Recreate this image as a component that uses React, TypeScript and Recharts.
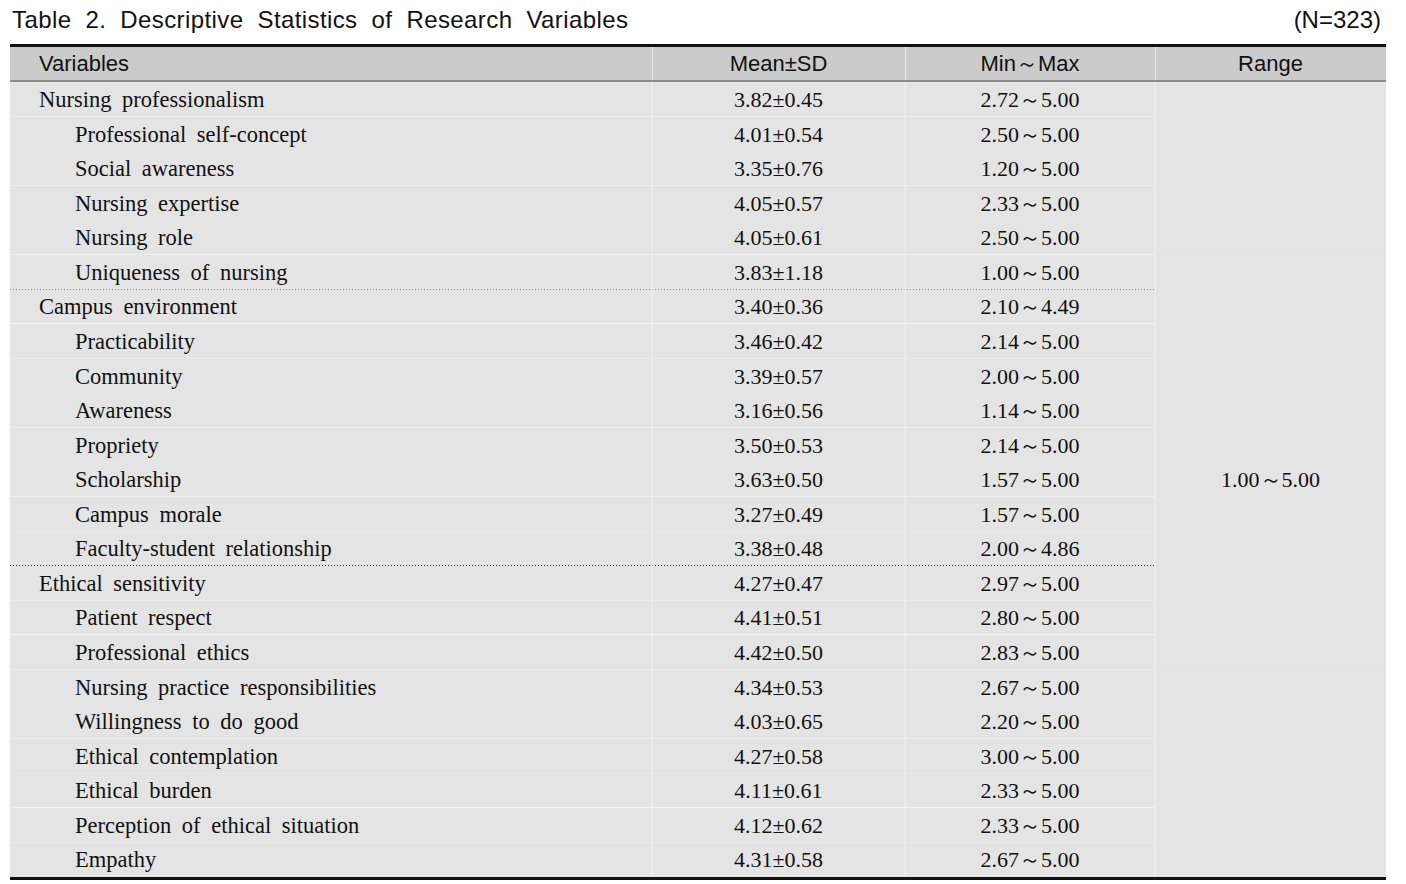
import { BarChart, Bar, XAxis, YAxis, LabelList, ReferenceLine, ReferenceArea } from 'recharts';

const VARIABLES = [
  'Nursing professionalism',
  'Professional self-concept',
  'Social awareness',
  'Nursing expertise',
  'Nursing role',
  'Uniqueness of nursing',
  'Campus environment',
  'Practicability',
  'Community',
  'Awareness',
  'Propriety',
  'Scholarship',
  'Campus morale',
  'Faculty-student relationship',
  'Ethical sensitivity',
  'Patient respect',
  'Professional ethics',
  'Nursing practice responsibilities',
  'Willingness to do good',
  'Ethical contemplation',
  'Ethical burden',
  'Perception of ethical situation',
  'Empathy',
];
// 0 = main variable, 1 = sub-factor
const LEVELS = [0, 1, 1, 1, 1, 1, 0, 1, 1, 1, 1, 1, 1, 1, 0, 1, 1, 1, 1, 1, 1, 1, 1];
const MEANS = [3.82, 4.01, 3.35, 4.05, 4.05, 3.83, 3.40, 3.46, 3.39, 3.16, 3.50, 3.63, 3.27, 3.38, 4.27, 4.41, 4.42, 4.34, 4.03, 4.27, 4.11, 4.12, 4.31];
const SDS = [0.45, 0.54, 0.76, 0.57, 0.61, 1.18, 0.36, 0.42, 0.57, 0.56, 0.53, 0.50, 0.49, 0.48, 0.47, 0.51, 0.50, 0.53, 0.65, 0.58, 0.61, 0.62, 0.58];
const MINS = [2.72, 2.50, 1.20, 2.33, 2.50, 1.00, 2.10, 2.14, 2.00, 1.14, 2.14, 1.57, 1.57, 2.00, 2.97, 2.80, 2.83, 2.67, 2.20, 3.00, 2.33, 2.33, 2.67];
const MAXS = [5.00, 5.00, 5.00, 5.00, 5.00, 5.00, 4.49, 5.00, 5.00, 5.00, 5.00, 5.00, 5.00, 4.86, 5.00, 5.00, 5.00, 5.00, 5.00, 5.00, 5.00, 5.00, 5.00];
const GROUP_ENDS = [5, 13];
const RANGE_TEXT = '1.00～5.00';
const HEADERS = ['Variables', 'Mean±SD', 'Min～Max', 'Range'];

// table geometry (pixels inside the plot area)
const TABLE_W = 1376;
const COL_EDGES = [642, 895, 1145];

const SERIF = '"Liberation Serif", "Times New Roman", serif';
const SANS = '"Liberation Sans", Arial, sans-serif';

const rows = VARIABLES.map((name, i) => ({
  name,
  level: LEVELS[i],
  meanSd: `${MEANS[i].toFixed(2)}±${SDS[i].toFixed(2)}`,
  minMax: `${MINS[i].toFixed(2)}～${MAXS[i].toFixed(2)}`,
  groupEnd: GROUP_ENDS.includes(i),
  last: i === VARIABLES.length - 1,
  span: TABLE_W,
}));

function RowShape(props: any) {
  const { x, y, width, height, payload } = props;
  const bottom = Math.round(y + height) - 0.5;
  return (
    <g>
      <rect x={x} y={y} width={width} height={height} fill="#e4e4e4" />
      {!payload.last && !payload.groupEnd && (
        <line x1={x} x2={x + COL_EDGES[2]} y1={bottom} y2={bottom} stroke="#f4f4f4" strokeWidth={1} />
      )}
      {payload.groupEnd && (
        <line x1={x} x2={x + COL_EDGES[2]} y1={bottom} y2={bottom} stroke="#111" strokeWidth={1} strokeDasharray="1 2" />
      )}
    </g>
  );
}

const cellText = (cx: number, anchor: 'start' | 'middle') => (props: any) => {
  const { x, y, height, value, index } = props;
  const isName = anchor === 'start';
  const indent = isName ? (rows[index].level === 0 ? 29 : 65) : 0;
  return (
    <text
      x={isName ? x + indent : x + cx}
      y={y + height / 2}
      textAnchor={anchor}
      dominantBaseline="central"
      fontFamily={SERIF}
      fontSize={isName ? 22.5 : 22}
      fill="#111"
      style={{ wordSpacing: isName ? 5 : 0 }}
    >
      {value}
    </text>
  );
};

export default function App() {
  const headerCenters = [0, (652 + 905) / 2, (905 + 1155) / 2, (1155 + 1386) / 2];
  return (
    <div style={{ position: 'absolute', left: 0, top: 0, width: 1406, height: 884, background: '#fff' }}>
      <BarChart
        width={1406}
        height={884}
        data={rows}
        layout="vertical"
        barCategoryGap={0}
        margin={{ top: 82, right: 20, bottom: 7, left: 10 }}
      >
        <XAxis type="number" domain={[0, TABLE_W]} hide />
        <YAxis type="category" dataKey="name" hide />
        <Bar dataKey="span" shape={RowShape} isAnimationActive={false}>
          <LabelList dataKey="name" content={cellText(0, 'start')} />
          <LabelList dataKey="meanSd" content={cellText((COL_EDGES[0] + COL_EDGES[1]) / 2, 'middle')} />
          <LabelList dataKey="minMax" content={cellText((COL_EDGES[1] + COL_EDGES[2]) / 2, 'middle')} />
        </Bar>
        {COL_EDGES.map((c) => (
          <ReferenceLine key={c} x={c} stroke="#f2f2f2" strokeWidth={1} />
        ))}
        <ReferenceArea
          x1={COL_EDGES[2]}
          x2={TABLE_W}
          fill="none"
          stroke="none"
          label={{ value: RANGE_TEXT, position: 'center', fill: '#111', fontSize: 22, fontFamily: SERIF }}
        />
      </BarChart>

      {/* title */}
      <div
        style={{
          position: 'absolute', left: 12, top: 6, fontFamily: SANS, fontSize: 24,
          color: '#111', wordSpacing: 7, letterSpacing: 0.4, whiteSpace: 'nowrap',
        }}
      >
        Table 2. Descriptive Statistics of Research Variables
      </div>
      <div style={{ position: 'absolute', right: 25, top: 6, fontFamily: SANS, fontSize: 24, color: '#111' }}>
        (N=323)
      </div>

      {/* top rule + header */}
      <div style={{ position: 'absolute', left: 10, top: 44, width: 1376, height: 3, background: '#111' }} />
      <div style={{ position: 'absolute', left: 10, top: 47, width: 1376, height: 33, background: '#cbcbcb' }} />
      <div style={{ position: 'absolute', left: 10, top: 80, width: 1376, height: 2, background: '#8c8c8c' }} />
      {[652, 905, 1155].map((c) => (
        <div key={c} style={{ position: 'absolute', left: c, top: 47, width: 1, height: 33, background: '#e8e8e8' }} />
      ))}
      {HEADERS.map((h, i) => (
        <div
          key={h}
          style={{
            position: 'absolute', top: 49, height: 30, lineHeight: '30px', fontFamily: SANS, fontSize: 22,
            color: '#111', whiteSpace: 'nowrap',
            ...(i === 0 ? { left: 39 } : { left: headerCenters[i] - 150, width: 300, textAlign: 'center' }),
          }}
        >
          {h}
        </div>
      ))}

      {/* bottom rule */}
      <div style={{ position: 'absolute', left: 10, top: 877, width: 1376, height: 3, background: '#111' }} />
    </div>
  );
}
